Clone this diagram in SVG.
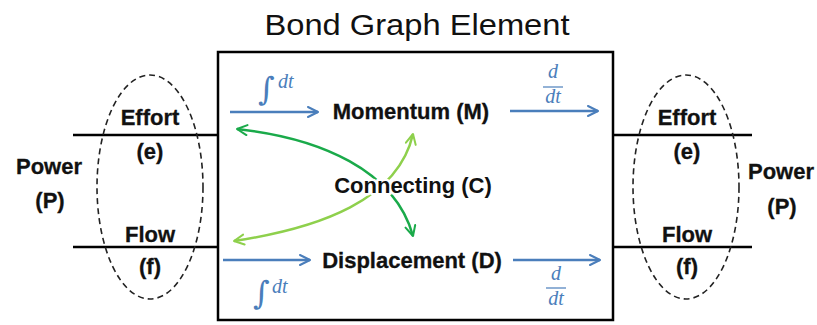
<svg xmlns="http://www.w3.org/2000/svg" width="817" height="325" viewBox="0 0 817 325">
<defs>
<style>
.lbl{font-family:"Liberation Sans",Arial,sans-serif;font-weight:bold;font-size:22px;fill:#111;stroke:#111;stroke-width:0.3;text-anchor:middle}
.halo{paint-order:stroke;stroke:#fff;stroke-width:5;stroke-linejoin:round}
.title{font-family:"Liberation Sans",Arial,sans-serif;font-size:30px;fill:#111;text-anchor:middle}
.math{font-family:"Liberation Serif","DejaVu Serif",serif;font-style:italic;font-size:20px;fill:#4a7ebb}
.int{font-family:"DejaVu Serif",serif;font-size:32px;fill:#4a7ebb}
.blue{stroke:#4a7ebb;stroke-width:2.5;fill:none}
.port{stroke:#000;stroke-width:2.5;fill:none}
.ell{stroke:#222;stroke-width:1.6;fill:none;stroke-dasharray:6 4}
.dg{stroke:#1aaa4a;stroke-width:2.5;fill:none}
.lg{stroke:#8ed04c;stroke-width:2.5;fill:none}
</style>
<marker id="ab" viewBox="0 0 10 10" refX="9" refY="5" markerWidth="5" markerHeight="5" orient="auto-start-reverse" markerUnits="strokeWidth">
<path d="M1,1 L9,5 L1,9" fill="none" stroke="#4a7ebb" stroke-width="1.6" stroke-linecap="round" stroke-linejoin="round"/>
</marker>
<marker id="adg" viewBox="0 0 10 10" refX="9" refY="5" markerWidth="5" markerHeight="5" orient="auto-start-reverse" markerUnits="strokeWidth">
<path d="M1,1 L9,5 L1,9" fill="none" stroke="#1aaa4a" stroke-width="1.6" stroke-linecap="round" stroke-linejoin="round"/>
</marker>
<marker id="alg" viewBox="0 0 10 10" refX="9" refY="5" markerWidth="5" markerHeight="5" orient="auto-start-reverse" markerUnits="strokeWidth">
<path d="M1,1 L9,5 L1,9" fill="none" stroke="#8ed04c" stroke-width="1.6" stroke-linecap="round" stroke-linejoin="round"/>
</marker>
</defs>
<rect width="817" height="325" fill="#fff"/>
<text class="title" x="417" y="35" textLength="305" lengthAdjust="spacingAndGlyphs">Bond Graph Element</text>

<g id="element">
<rect x="218" y="52" width="395" height="268" fill="none" stroke="#000" stroke-width="2.5"/>
</g>

<g id="left-port">
<line class="port" x1="73" y1="135" x2="218" y2="135"/>
<line class="port" x1="73" y1="247" x2="218" y2="247"/>
<ellipse class="ell" cx="150" cy="187" rx="53" ry="112"/>
<text class="lbl" x="150" y="125">Effort</text>
<text class="lbl" x="150" y="159">(e)</text>
<text class="lbl" x="150" y="242">Flow</text>
<text class="lbl" x="150" y="274">(f)</text>
<text class="lbl" x="49" y="174">Power</text>
<text class="lbl" x="50" y="208">(P)</text>
</g>

<g id="right-port">
<line class="port" x1="613" y1="135" x2="752" y2="135"/>
<line class="port" x1="613" y1="247" x2="752" y2="247"/>
<ellipse class="ell" cx="686" cy="187" rx="53" ry="112"/>
<text class="lbl" x="687" y="125">Effort</text>
<text class="lbl" x="687" y="159">(e)</text>
<text class="lbl" x="687" y="242">Flow</text>
<text class="lbl" x="687" y="274">(f)</text>
<text class="lbl" x="781" y="179">Power</text>
<text class="lbl" x="782" y="214">(P)</text>
</g>

<g id="connectors">
<line class="blue" x1="230" y1="112" x2="318" y2="112" marker-end="url(#ab)"/>
<line class="blue" x1="510" y1="111" x2="598" y2="111" marker-end="url(#ab)"/>
<line class="blue" x1="223" y1="260" x2="310" y2="260" marker-end="url(#ab)"/>
<line class="blue" x1="513" y1="260" x2="600" y2="260" marker-end="url(#ab)"/>
<path class="dg" d="M237,129 C320,138 395,170 413,236" marker-start="url(#adg)" marker-end="url(#adg)"/>
<path class="lg" d="M234,241 C320,228 398,200 413,134" marker-start="url(#alg)" marker-end="url(#alg)"/>
</g>

<g id="momentum">
<text class="lbl" x="411" y="119">Momentum  (M)</text>
</g>
<g id="connecting">
<text class="lbl halo" x="413" y="193">Connecting (C)</text>
</g>
<g id="displacement">
<text class="lbl" x="412" y="268">Displacement (D)</text>
</g>

<g id="labels-math">
<text class="int" x="258" y="100">∫</text>
<text class="math" x="278" y="88">dt</text>
<text class="math" x="553" y="78" text-anchor="middle">d</text>
<line x1="543" y1="87" x2="563" y2="87" stroke="#4a7ebb" stroke-width="1.2"/>
<text class="math" x="553" y="103" text-anchor="middle">dt</text>
<text class="int" x="253" y="304">∫</text>
<text class="math" x="272" y="293">dt</text>
<text class="math" x="556" y="280" text-anchor="middle">d</text>
<line x1="546" y1="288" x2="566" y2="288" stroke="#4a7ebb" stroke-width="1.2"/>
<text class="math" x="556" y="305" text-anchor="middle">dt</text>
</g>
</svg>
